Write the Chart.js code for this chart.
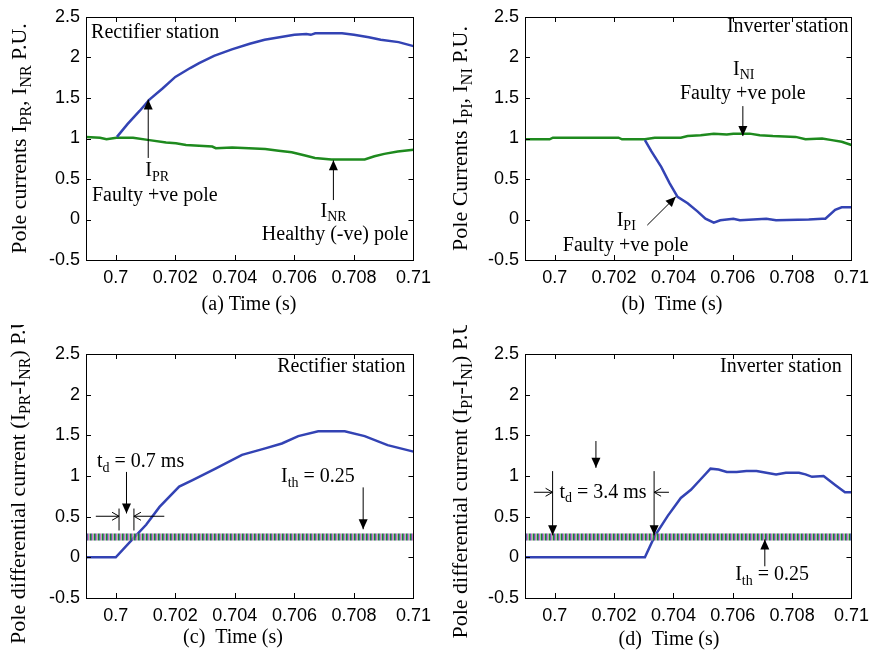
<!DOCTYPE html>
<html>
<head>
<meta charset="utf-8">
<script src="https://cdn.jsdelivr.net/npm/chart.js@4.4.1/dist/chart.umd.min.js"></script>
<style>
  body { margin: 0; background: #fff; width: 876px; height: 651px; overflow: hidden; position: relative; }
  canvas { position: absolute; }
</style>
</head>
<body>
<canvas id="chartA" width="438" height="325" style="left:0;top:0"></canvas>
<canvas id="chartB" width="438" height="325" style="left:438px;top:0"></canvas>
<canvas id="chartC" width="438" height="326" style="left:0;top:325px"></canvas>
<canvas id="chartD" width="438" height="326" style="left:438px;top:325px"></canvas>
<script>
// axis ticks
const xTicks = [0.7, 0.702, 0.704, 0.706, 0.708, 0.71];
const yTicks = [-0.5, 0, 0.5, 1, 1.5, 2, 2.5];

// (a) rectifier pole currents
const tPR_a = [0.70004, 0.7004, 0.7008, 0.70113, 0.70158, 0.7020, 0.7025, 0.7028, 0.7033, 0.7039, 0.7045, 0.7050, 0.7055, 0.7060, 0.7064, 0.70655, 0.7067, 0.7072, 0.7076, 0.7080, 0.7085, 0.7089, 0.7095, 0.7100];
const iPR_a = [1.02, 1.18, 1.34, 1.48, 1.62, 1.76, 1.87, 1.93, 2.02, 2.10, 2.17, 2.22, 2.25, 2.28, 2.29, 2.28, 2.30, 2.30, 2.30, 2.28, 2.25, 2.22, 2.19, 2.14];
const tNR_a = [0.699, 0.69947, 0.69969, 0.70002, 0.70058, 0.70113, 0.70169, 0.70202, 0.70236, 0.7028, 0.70324, 0.70336, 0.70391, 0.70447, 0.70502, 0.70547, 0.70591, 0.70636, 0.70669, 0.70724, 0.7078, 0.70836, 0.70869, 0.70902, 0.70947, 0.71];
const iNR_a = [1.02, 1.01, 0.99, 1.01, 1.01, 0.98, 0.95, 0.94, 0.92, 0.91, 0.90, 0.88, 0.89, 0.88, 0.87, 0.85, 0.83, 0.79, 0.76, 0.74, 0.74, 0.74, 0.78, 0.81, 0.84, 0.86];

// (b) inverter pole currents
const tNI_b = [0.699, 0.69983, 0.69994, 0.70061, 0.70083, 0.70215, 0.70227, 0.70304, 0.70337, 0.70425, 0.70448, 0.70492, 0.70536, 0.7058, 0.70602, 0.70657, 0.70691, 0.70735, 0.70812, 0.70845, 0.70901, 0.70934, 0.70967, 0.71];
const iNI_b = [0.99, 0.99, 1.01, 1.01, 1.01, 1.01, 0.99, 0.99, 1.01, 1.01, 1.03, 1.04, 1.06, 1.05, 1.06, 1.06, 1.04, 1.03, 1.02, 0.99, 1.00, 0.98, 0.96, 0.92];
const tPI_b = [0.70304, 0.70326, 0.70359, 0.70387, 0.70414, 0.70448, 0.70481, 0.70508, 0.70536, 0.70558, 0.70602, 0.70624, 0.70713, 0.70746, 0.70856, 0.70901, 0.70912, 0.70945, 0.70967, 0.71];
const iPI_b = [0.98, 0.84, 0.65, 0.45, 0.28, 0.20, 0.10, 0.01, -0.04, -0.01, 0.01, -0.01, 0.01, -0.01, 0.00, 0.01, 0.01, 0.12, 0.15, 0.15];

// (c) rectifier differential current
const tDiff_c = [0.699, 0.7, 0.70058, 0.70102, 0.70147, 0.70213, 0.70258, 0.70335, 0.70424, 0.70502, 0.70558, 0.70613, 0.7068, 0.70769, 0.70836, 0.70913, 0.71];
const iDiff_c = [0, 0, 0.23, 0.40, 0.62, 0.87, 0.95, 1.09, 1.26, 1.34, 1.40, 1.49, 1.55, 1.55, 1.49, 1.38, 1.30];

// (d) inverter differential current
const tDiff_d = [0.699, 0.70304, 0.70337, 0.70381, 0.70425, 0.70459, 0.70492, 0.70525, 0.70552, 0.7058, 0.70613, 0.70646, 0.7068, 0.70713, 0.70746, 0.70779, 0.70823, 0.70845, 0.70867, 0.70906, 0.70945, 0.70978, 0.71];
const iDiff_d = [0, 0, 0.26, 0.51, 0.73, 0.83, 0.96, 1.09, 1.08, 1.05, 1.05, 1.06, 1.06, 1.04, 1.02, 1.04, 1.04, 1.02, 0.99, 1.00, 0.89, 0.80, 0.80];

// threshold I_th
const thresholdT = [0.699, 0.71];
const thresholdI = [0.25, 0.25];

const BLUE = '#3343b4';
const GREEN = '#1e8a1e';
// stripe colours of the threshold marker band and their widths (px) in a 4 px period
const thrColors = ['#2a7a2a', '#3343b4', '#c940c6', '#d9c92a', '#3cbfcc'];
const thrWidths = [1.2, 0.8, 0.7, 0.6, 0.7];

function pts(t, v) { return t.map((x, i) => ({ x: x, y: v[i] })); }

function parse(s) {
    const out = [];
    s.split(/(_\{[^}]*\})/).forEach(seg => {
        if (!seg) return;
        if (seg.startsWith('_{')) out.push([seg.slice(2, -1), 1]);
        else out.push([seg, 0]);
    });
    return out;
}

function rich(ctx, s, x, y, align, size) {
    const parts = parse(s);
    const sub = Math.round(size * 0.72);
    let w = 0;
    const widths = parts.map(p => {
        ctx.font = (p[1] ? sub : size) + 'px "Liberation Serif", "Times New Roman", serif';
        const m = ctx.measureText(p[0]).width;
        w += m;
        return m;
    });
    let cx = align === 'center' ? x - w / 2 : align === 'right' ? x - w : x;
    ctx.textAlign = 'left';
    ctx.textBaseline = 'middle';
    parts.forEach((p, i) => {
        ctx.font = (p[1] ? sub : size) + 'px "Liberation Serif", "Times New Roman", serif';
        ctx.fillText(p[0], cx, y + (p[1] ? size * 0.3 : 0));
        cx += widths[i];
    });
}

function arrow(ctx, x1, y1, x2, y2, kind) {
    const ang = Math.atan2(y2 - y1, x2 - x1);
    ctx.beginPath();
    ctx.moveTo(x1, y1);
    ctx.lineTo(x2, y2);
    ctx.stroke();
    if (kind === 'none') return;
    const len = kind === 'open' ? 7 : 10;
    const half = kind === 'open' ? 4 : 4.5;
    const bx = x2 - len * Math.cos(ang), by = y2 - len * Math.sin(ang);
    const px = -Math.sin(ang) * half, py = Math.cos(ang) * half;
    ctx.beginPath();
    ctx.moveTo(bx + px, by + py);
    ctx.lineTo(x2, y2);
    ctx.lineTo(bx - px, by - py);
    if (kind === 'open') {
        ctx.stroke();
    } else {
        ctx.closePath();
        ctx.fill();
    }
}

// box, inward ticks, notes and axis titles
const frame = {
    id: 'frame',
    afterDatasetsDraw(chart, args, opts) {
        const { ctx, chartArea: a, scales: { x, y } } = chart;
        ctx.save();
        ctx.strokeStyle = '#000';
        ctx.fillStyle = '#000';
        ctx.lineWidth = 1;
        ctx.strokeRect(Math.round(a.left) + 0.5, Math.round(a.top) + 0.5, Math.round(a.right - a.left), Math.round(a.bottom - a.top));
        ctx.beginPath();
        xTicks.forEach(v => {
            const px = Math.round(x.getPixelForValue(v)) + 0.5;
            ctx.moveTo(px, a.bottom); ctx.lineTo(px, a.bottom - 5);
            ctx.moveTo(px, a.top); ctx.lineTo(px, a.top + 5);
        });
        yTicks.forEach(v => {
            const py = Math.round(y.getPixelForValue(v)) + 0.5;
            ctx.moveTo(a.left, py); ctx.lineTo(a.left + 5, py);
            ctx.moveTo(a.right, py); ctx.lineTo(a.right - 5, py);
        });
        ctx.stroke();

        (opts.lines || []).forEach(l => arrow(ctx, x.getPixelForValue(l[0]), y.getPixelForValue(l[1]), x.getPixelForValue(l[2]), y.getPixelForValue(l[3]), 'none'));
        (opts.arrows || []).forEach(ar => arrow(ctx, x.getPixelForValue(ar[0]), y.getPixelForValue(ar[1]), x.getPixelForValue(ar[2]), y.getPixelForValue(ar[3]), ar[4] || 'fill'));
        (opts.texts || []).forEach(t => rich(ctx, t.s, x.getPixelForValue(t.x), y.getPixelForValue(t.y), t.align, 20));

        rich(ctx, opts.xTitle, opts.xTitleX, a.bottom + opts.xTitleGap, 'center', 20);
        ctx.translate(opts.yTitleX, (a.top + a.bottom) / 2);
        ctx.rotate(-Math.PI / 2);
        rich(ctx, opts.yTitle, 0, 0, 'center', 22);
        ctx.restore();
    }
};

function lineSet(t, v, color) {
    return { data: pts(t, v), borderColor: color, borderWidth: 2.5, pointRadius: 0, order: 2 };
}

function thresholdSets() {
    let offset = 0;
    return thrColors.map((c, k) => {
        const ds = {
            data: pts(thresholdT, thresholdI),
            borderColor: c,
            borderWidth: 7,
            borderDash: [thrWidths[k], 4 - thrWidths[k]],
            borderDashOffset: -offset,
            borderCapStyle: 'butt',
            pointRadius: 0,
            order: 1
        };
        offset += thrWidths[k];
        return ds;
    });
}

function makePanel(canvasId, datasets, pad, notes) {
    const tickFont = { family: '"Liberation Sans", Arial, sans-serif', size: 18 };
    return new Chart(document.getElementById(canvasId), {
        type: 'line',
        data: { datasets: datasets },
        options: {
            responsive: false,
            animation: false,
            layout: { padding: pad },
            elements: { line: { tension: 0 } },
            plugins: { legend: { display: false }, tooltip: { enabled: false }, frame: notes },
            scales: {
                x: {
                    type: 'linear', min: 0.699, max: 0.71,
                    grid: { display: false, drawTicks: false },
                    border: { display: false },
                    afterBuildTicks: s => { s.ticks = xTicks.map(v => ({ value: v })); },
                    afterFit: s => { s.height = 40; },
                    ticks: { padding: 7, color: '#000', font: tickFont, maxRotation: 0, autoSkip: false,
                             callback: v => String(+v.toFixed(3)) }
                },
                y: {
                    type: 'linear', min: -0.5, max: 2.5,
                    grid: { display: false, drawTicks: false },
                    border: { display: false },
                    afterBuildTicks: s => { s.ticks = yTicks.map(v => ({ value: v })); },
                    afterFit: s => { s.width = 50; },
                    ticks: { padding: 6, color: '#000', font: tickFont, callback: v => String(v) }
                }
            }
        },
        plugins: [frame]
    });
}

makePanel('chartA',
    [lineSet(tPR_a, iPR_a, BLUE), lineSet(tNR_a, iNR_a, GREEN)],
    { left: 36, right: 21, top: 17, bottom: 25 },
    {
        xTitle: '(a) Time (s)', xTitleX: 249, xTitleGap: 45,
        yTitle: 'Pole currents I_{PR}, I_{NR} P.U.', yTitleX: 20,
        texts: [
            { x: 0.69917, y: 2.31, s: 'Rectifier station', align: 'left' },
            { x: 0.70099, y: 0.60, s: 'I_{PR}', align: 'left' },
            { x: 0.6992, y: 0.29, s: 'Faulty +ve pole', align: 'left' },
            { x: 0.70688, y: 0.10, s: 'I_{NR}', align: 'left' },
            { x: 0.70983, y: -0.19, s: 'Healthy (-ve) pole', align: 'right' }
        ],
        arrows: [[0.70109, 0.76, 0.70109, 1.48], [0.70731, 0.24, 0.70731, 0.73]]
    });

makePanel('chartB',
    [lineSet(tPI_b, iPI_b, BLUE), lineSet(tNI_b, iNI_b, GREEN)],
    { left: 37, right: 20, top: 17, bottom: 25 },
    {
        xTitle: '(b)  Time (s)', xTitleX: 234, xTitleGap: 45,
        yTitle: 'Pole Currents I_{PI}, I_{NI} P.U.', yTitleX: 23,
        texts: [
            { x: 0.7099, y: 2.38, s: 'Inverter station', align: 'right' },
            { x: 0.70601, y: 1.85, s: 'I_{NI}', align: 'left' },
            { x: 0.70634, y: 1.55, s: 'Faulty +ve pole', align: 'center' },
            { x: 0.70209, y: -0.01, s: 'I_{PI}', align: 'left' },
            { x: 0.70239, y: -0.33, s: 'Faulty +ve pole', align: 'center' }
        ],
        arrows: [[0.70634, 1.40, 0.70634, 1.03], [0.70312, -0.07, 0.70408, 0.28]]
    });

makePanel('chartC',
    [lineSet(tDiff_c, iDiff_c, BLUE)].concat(thresholdSets()),
    { left: 36, right: 21, top: 29, bottom: 13 },
    {
        xTitle: '(c)  Time (s)', xTitleX: 233, xTitleGap: 40,
        yTitle: 'Pole differential current (I_{PR}-I_{NR}) P.U.', yTitleX: 19,
        texts: [
            { x: 0.70973, y: 2.34, s: 'Rectifier station', align: 'right' },
            { x: 0.69937, y: 1.17, s: 't_{d} = 0.7 ms', align: 'left' },
            { x: 0.70555, y: 0.985, s: 'I_{th} = 0.25', align: 'left' }
        ],
        lines: [[0.70011, 0.60, 0.70011, 0.33], [0.70061, 0.60, 0.70061, 0.33]],
        arrows: [[0.70036, 1.05, 0.70036, 0.54], [0.70831, 0.86, 0.70831, 0.345],
                 [0.69933, 0.505, 0.70011, 0.505, 'open'], [0.70163, 0.505, 0.70061, 0.505, 'open']]
    });

makePanel('chartD',
    [lineSet(tDiff_d, iDiff_d, BLUE)].concat(thresholdSets()),
    { left: 37, right: 20, top: 29, bottom: 13 },
    {
        xTitle: '(d)  Time (s)', xTitleX: 231, xTitleGap: 42,
        yTitle: 'Pole differential current (I_{PI}-I_{NI}) P.U.', yTitleX: 23,
        texts: [
            { x: 0.70967, y: 2.34, s: 'Inverter station', align: 'right' },
            { x: 0.70016, y: 0.80, s: 't_{d} = 3.4 ms', align: 'left' },
            { x: 0.70608, y: -0.22, s: 'I_{th} = 0.25', align: 'left' }
        ],
        arrows: [[0.70139, 1.43, 0.70139, 1.10], [0.69993, 1.06, 0.69993, 0.27], [0.70335, 1.06, 0.70335, 0.27],
                 [0.6993, 0.80, 0.69993, 0.80, 'open'], [0.70385, 0.80, 0.70335, 0.80, 'open'],
                 [0.70708, -0.11, 0.70708, 0.22]]
    });
</script>
</body>
</html>
